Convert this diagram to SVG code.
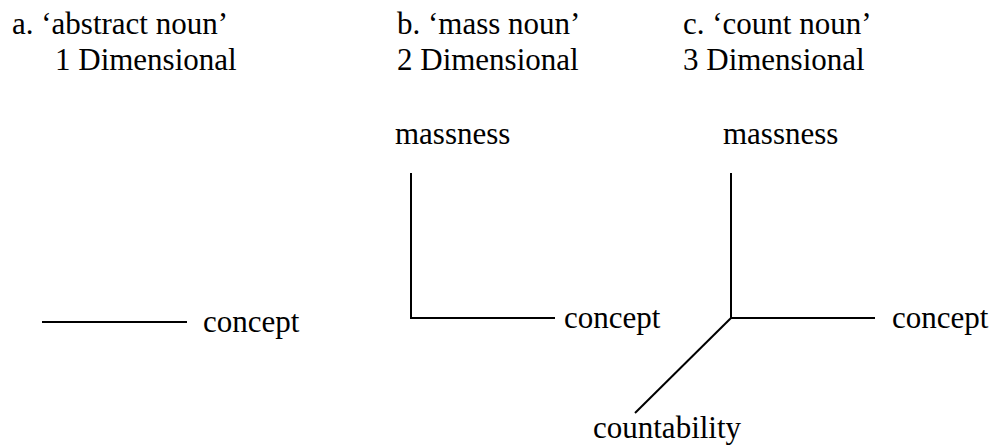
<svg xmlns="http://www.w3.org/2000/svg" width="1003" height="446" viewBox="0 0 1003 446">
<style>
text{font-family:'Liberation Serif','Times New Roman',serif;font-size:31px;fill:#000}
.ax{stroke:#000;stroke-width:2;fill:none}
</style>
<rect width="1003" height="446" fill="#fff"/>
<g id="title-a"><text x="12" y="34">a. ‘abstract noun’</text><text x="55" y="70">1 Dimensional</text></g>
<g id="title-b"><text x="397" y="34">b. ‘mass noun’</text><text x="397" y="70">2 Dimensional</text></g>
<g id="title-c"><text x="683" y="34">c. ‘count noun’</text><text x="683" y="70">3 Dimensional</text></g>
<g id="label-a-concept"><text x="203" y="332">concept</text></g>
<g id="label-b-massness"><text x="395" y="144">massness</text></g>
<g id="label-b-concept"><text x="564" y="328">concept</text></g>
<g id="label-c-massness"><text x="723" y="144">massness</text></g>
<g id="label-c-concept"><text x="892" y="328">concept</text></g>
<g id="label-c-countability"><text x="593" y="438">countability</text></g>
<g id="connectors" class="ax">
<line x1="42" y1="322" x2="187" y2="322"/>
<polyline points="411,173 411,318 555,318"/>
<line x1="731" y1="173" x2="731" y2="318"/>
<line x1="731" y1="318" x2="875" y2="318"/>
<line x1="731" y1="318" x2="635" y2="413"/>
</g>
</svg>
